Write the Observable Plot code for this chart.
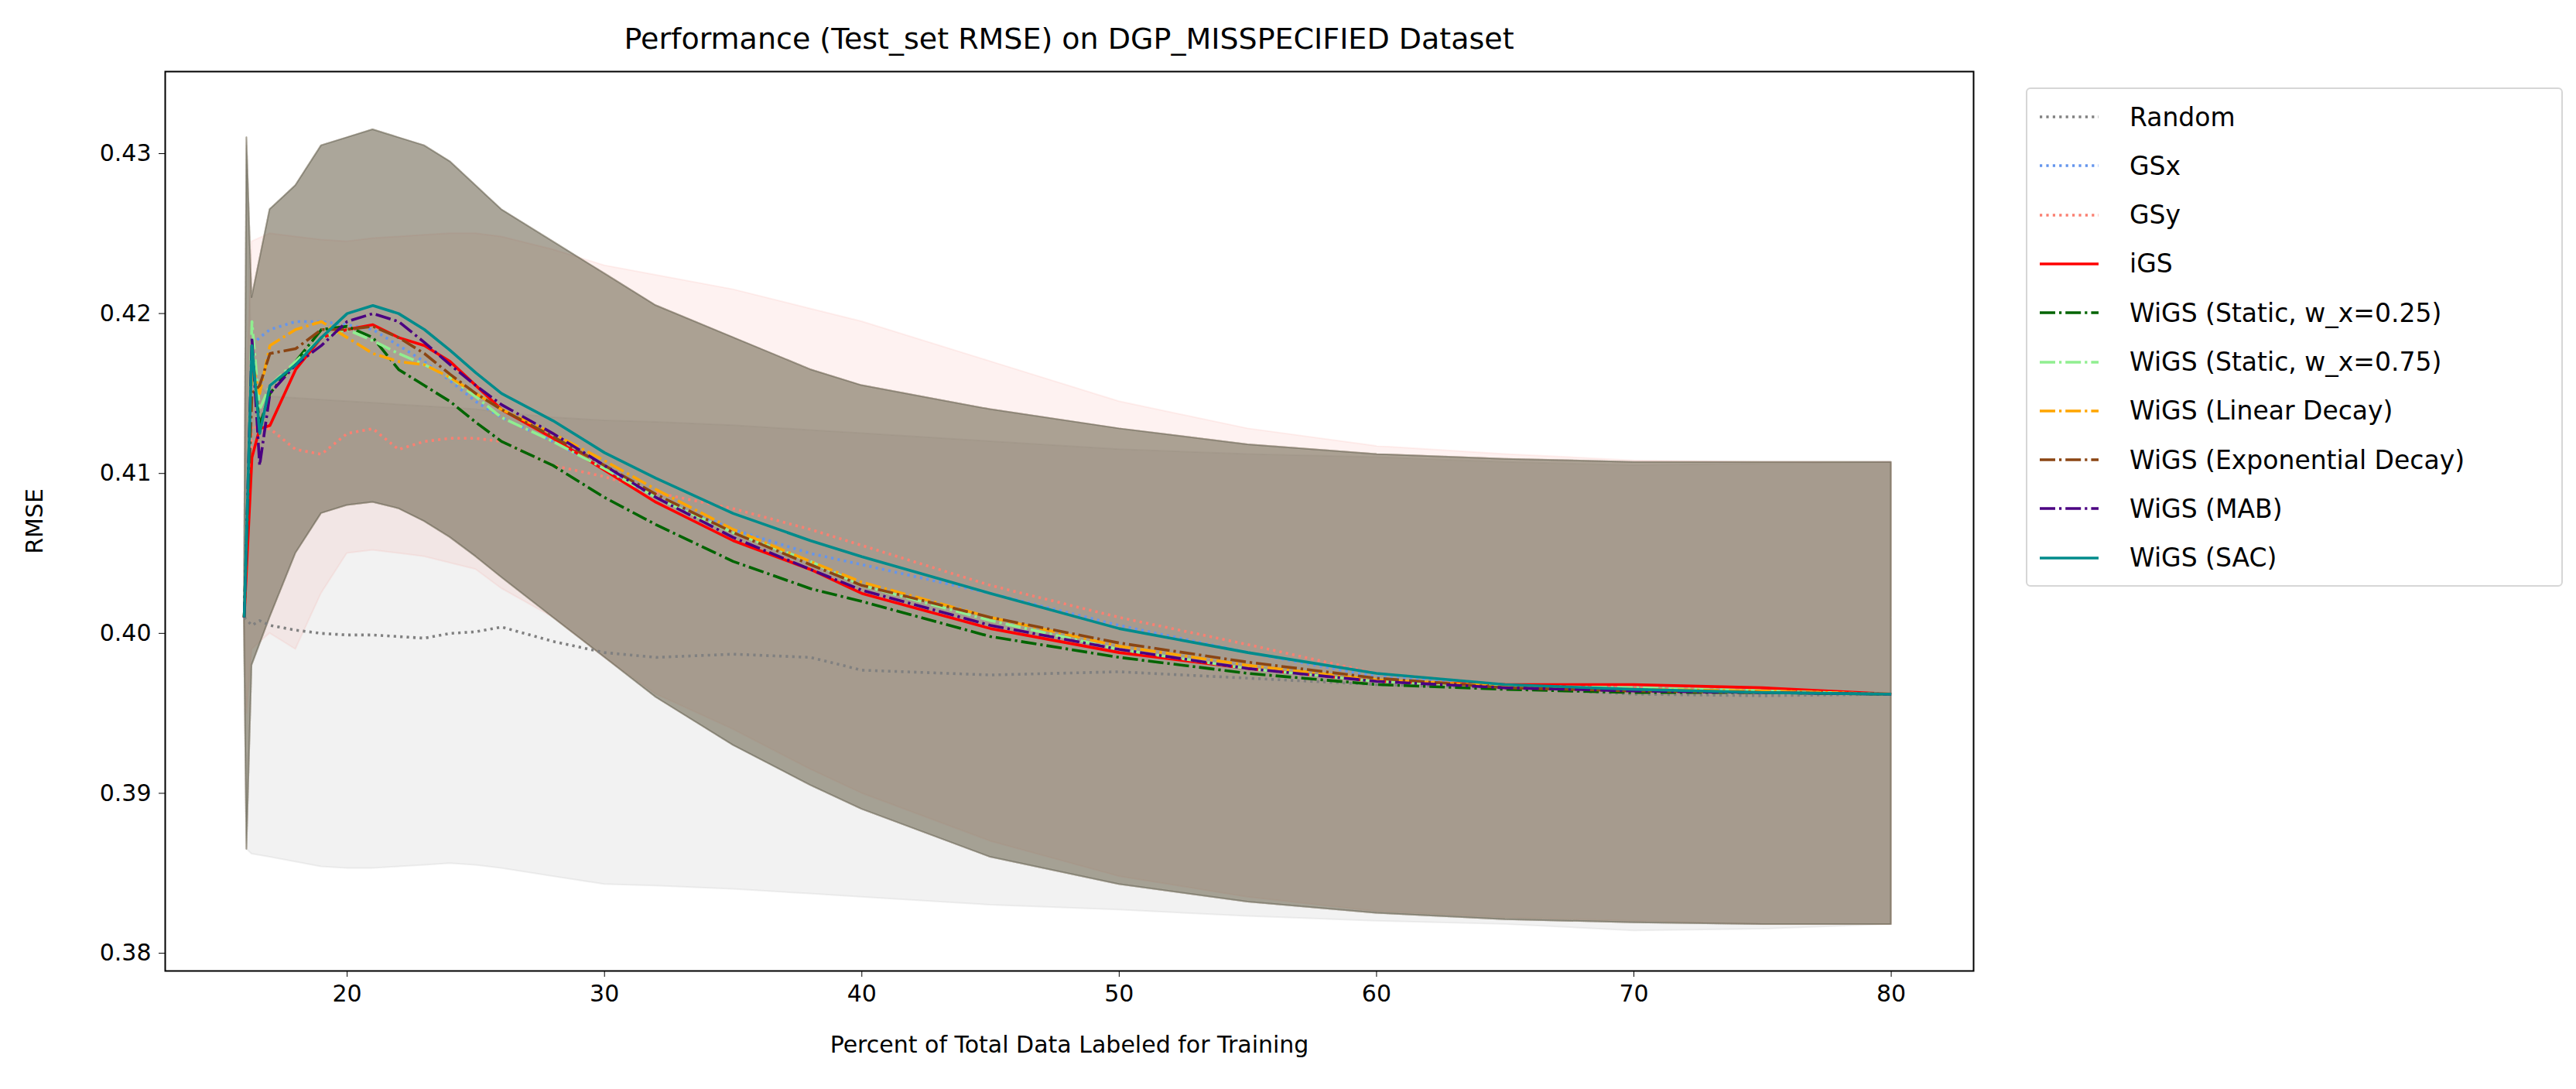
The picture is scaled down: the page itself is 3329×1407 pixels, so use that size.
<!DOCTYPE html>
<html>
<head>
<meta charset="utf-8">
<script src="https://cdn.jsdelivr.net/npm/d3@7"></script>
<script src="https://cdn.jsdelivr.net/npm/@observablehq/plot@0.6"></script>
<style>
  body { margin: 0; background: white; font-family: "DejaVu Sans", sans-serif; }
  #wrap { position: relative; width: 3329px; height: 1407px; }
  #title { position: absolute; left: 213px; width: 2337px; top: 28px; text-align: center; font-size: 38px; }
  #legend { position: absolute; left: 2618px; top: 113px; width: 694px; height: 645px;
            border: 2px solid #d6d6d6; border-radius: 6px; box-sizing: border-box; }
  .row { position: absolute; left: 0; height: 40px; display: flex; align-items: center; font-size: 33px; }
  .row svg { margin-left: 16px; margin-right: 40px; }
</style>
</head>
<body>
<div id="wrap">
  <div id="title">Performance (Test_set RMSE) on DGP_MISSPECIFIED Dataset</div>
  <div id="chart"></div>
  <div id="legend"></div>
</div>
<script>
const xs = [16, 16.3, 16.6, 17, 18, 19, 20, 21, 22, 23, 24, 25, 26, 28, 30, 32, 35, 38, 40, 45, 50, 55, 60, 65, 70, 75, 80];

const names = ["Random", "GSx", "GSy", "iGS", "WiGS (Static, w_x=0.25)", "WiGS (Static, w_x=0.75)",
  "WiGS (Linear Decay)", "WiGS (Exponential Decay)", "WiGS (MAB)", "WiGS (SAC)"];
const colors = ["#808080", "#6495ed", "#fa8072", "#ff0000", "#006400", "#90ee90",
  "#ffa500", "#8b4513", "#4b0082", "#008b8b"];
const styles = ["dot", "dot", "dot", "solid", "dashdot", "dashdot", "dashdot", "dashdot", "dashdot", "solid"];

const meanRandom = [0.401, 0.4005, 0.4008, 0.4005, 0.4002, 0.4, 0.3999, 0.3999, 0.3998, 0.3997, 0.4, 0.4001, 0.4004, 0.3995, 0.3988, 0.3985, 0.3987, 0.3985, 0.3977, 0.3974, 0.3976, 0.3972, 0.3968, 0.3966, 0.3962, 0.3961, 0.3962];
const meanGSx = [0.401, 0.418, 0.4185, 0.419, 0.4195, 0.4195, 0.4193, 0.419, 0.418, 0.417, 0.4158, 0.4145, 0.4135, 0.412, 0.4103, 0.4085, 0.4065, 0.405, 0.4043, 0.4025, 0.4005, 0.3988, 0.3973, 0.3967, 0.3965, 0.3963, 0.3962];
const meanGSy = [0.401, 0.413, 0.4128, 0.4128, 0.4115, 0.4112, 0.4125, 0.4128, 0.4115, 0.412, 0.4122, 0.4122, 0.412, 0.4105, 0.4098, 0.4088, 0.4078, 0.4065, 0.4055, 0.403, 0.401, 0.3993, 0.3975, 0.3968, 0.3966, 0.3963, 0.3962];
const meanIGS = [0.401, 0.411, 0.4128, 0.413, 0.4165, 0.4185, 0.419, 0.4193, 0.4185, 0.418, 0.417, 0.4155, 0.414, 0.4122, 0.4102, 0.4082, 0.4058, 0.404, 0.4025, 0.4003, 0.3988, 0.3978, 0.397, 0.3968, 0.3968, 0.3966, 0.3962];
const meanW025 = [0.401, 0.4175, 0.413, 0.415, 0.417, 0.419, 0.4192, 0.4185, 0.4165, 0.4155, 0.4145, 0.4132, 0.412, 0.4105, 0.4085, 0.4068, 0.4045, 0.4028, 0.402, 0.3998, 0.3985, 0.3975, 0.3968, 0.3965, 0.3963, 0.3963, 0.3962];
const meanW075 = [0.401, 0.4195, 0.414, 0.4155, 0.417, 0.4185, 0.419, 0.4183, 0.4175, 0.4168, 0.416, 0.4148, 0.4135, 0.412, 0.4103, 0.4085, 0.4063, 0.4045, 0.403, 0.4008, 0.399, 0.3978, 0.397, 0.3967, 0.3966, 0.3964, 0.3962];
const meanLinear = [0.401, 0.417, 0.415, 0.418, 0.419, 0.4195, 0.4185, 0.4175, 0.417, 0.4168, 0.416, 0.415, 0.414, 0.4125, 0.4108, 0.409, 0.4065, 0.4045, 0.4032, 0.401, 0.3992, 0.398, 0.3971, 0.3967, 0.3965, 0.3964, 0.3962];
const meanExp = [0.401, 0.415, 0.4155, 0.4175, 0.4178, 0.419, 0.419, 0.4192, 0.4185, 0.4175, 0.4162, 0.415, 0.414, 0.4123, 0.4105, 0.4087, 0.4063, 0.4043, 0.403, 0.401, 0.3994, 0.3982, 0.3972, 0.3966, 0.3964, 0.3963, 0.3962];
const meanMAB = [0.401, 0.4185, 0.4105, 0.415, 0.4168, 0.418, 0.4195, 0.42, 0.4195, 0.4182, 0.4168, 0.4155, 0.4143, 0.4125, 0.4105, 0.4085, 0.406, 0.404, 0.4027, 0.4005, 0.399, 0.3978, 0.397, 0.3966, 0.3964, 0.3963, 0.3962];
const meanSAC = [0.401, 0.418, 0.4125, 0.4155, 0.4168, 0.4185, 0.42, 0.4205, 0.42, 0.419, 0.4177, 0.4163, 0.415, 0.4133, 0.4113, 0.4097, 0.4075, 0.4058, 0.4048, 0.4025, 0.4003, 0.3988, 0.3975, 0.3968, 0.3965, 0.3963, 0.3962];
const means = [meanRandom, meanGSx, meanGSy, meanIGS, meanW025, meanW075, meanLinear, meanExp, meanMAB, meanSAC];

// shaded ±std bands
const bandX = [16, 16.1, 16.3, 17, 18, 19, 20, 21, 22, 23, 24, 25, 26, 28, 30, 32, 35, 38, 40, 45, 50, 55, 60, 65, 70, 75, 80];
const bandHi = [0.401, 0.431, 0.421, 0.4265, 0.428, 0.4305, 0.431, 0.4315, 0.431, 0.4305, 0.4295, 0.428, 0.4265, 0.4245, 0.4225, 0.4205, 0.4185, 0.4165, 0.4155, 0.414, 0.4128, 0.4118, 0.4112, 0.4109, 0.4107, 0.4107, 0.4107];
const bandLo = [0.401, 0.3865, 0.398, 0.401, 0.405, 0.4075, 0.408, 0.4082, 0.4078, 0.407, 0.406, 0.4048, 0.4035, 0.401, 0.3985, 0.396, 0.393, 0.3905, 0.389, 0.386, 0.3843, 0.3832, 0.3825, 0.3821, 0.3819, 0.3818, 0.3818];
const randomHi = [0.401, 0.4305, 0.416, 0.4148, 0.4147, 0.4146, 0.4145, 0.4144, 0.4143, 0.4142, 0.4141, 0.414, 0.4138, 0.4135, 0.4133, 0.4132, 0.413, 0.4127, 0.4125, 0.412, 0.4115, 0.4112, 0.411, 0.4107, 0.4105, 0.4106, 0.4107];
const randomLo = [0.401, 0.3865, 0.3862, 0.386, 0.3857, 0.3854, 0.3853, 0.3853, 0.3854, 0.3855, 0.3856, 0.3855, 0.3853, 0.3848, 0.3843, 0.3842, 0.384, 0.3837, 0.3835, 0.383, 0.3827, 0.3823, 0.382, 0.3818, 0.3814, 0.3815, 0.3818];
const gsyHi = [0.401, 0.415, 0.4245, 0.425, 0.4248, 0.4246, 0.4245, 0.4247, 0.4248, 0.4249, 0.425, 0.425, 0.4248, 0.424, 0.423, 0.4224, 0.4215, 0.4203, 0.4195, 0.417, 0.4145, 0.4128, 0.4117, 0.4112, 0.4108, 0.4107, 0.4107];
const gsyLo = [0.401, 0.395, 0.399, 0.4, 0.399, 0.4025, 0.405, 0.4052, 0.405, 0.4048, 0.4044, 0.404, 0.4028, 0.401, 0.3985, 0.3962, 0.394, 0.3915, 0.39, 0.387, 0.3848, 0.3835, 0.3826, 0.3822, 0.382, 0.3818, 0.3818];

const bandRows = [];
names.forEach((n, i) => {
  const hi = i === 0 ? randomHi : i === 2 ? gsyHi : bandHi;
  const lo = i === 0 ? randomLo : i === 2 ? gsyLo : bandLo;
  bandX.forEach((x, j) => bandRows.push({ name: n, x, lo: lo[j], hi: hi[j] }));
});

const dashes = { dot: "3.2,5.2", dashdot: "20,5,3.2,5", solid: null };

const marks = [];
names.forEach((n, i) => {
  marks.push(Plot.areaY(bandRows.filter((d) => d.name === n), {
    x: "x", y1: "lo", y2: "hi", fill: colors[i], fillOpacity: 0.1,
    stroke: colors[i], strokeOpacity: 0.1, strokeWidth: 2,
  }));
});
names.forEach((n, i) => {
  const rows = xs.map((x, j) => ({ x, y: means[i][j] }));
  marks.push(Plot.line(rows, {
    x: "x", y: "y", stroke: colors[i], strokeWidth: 3.6,
    strokeDasharray: dashes[styles[i]], strokeLinecap: "butt",
  }));
});
marks.push(Plot.frame({ stroke: "black", strokeWidth: 2 }));

const chart = Plot.plot({
  width: 3329,
  height: 1407,
  marginLeft: 213,
  marginRight: 779,
  marginTop: 92,
  marginBottom: 153,
  style: { fontFamily: "DejaVu Sans", fontSize: "30px", color: "black", background: "white" },
  x: {
    domain: [12.93, 83.2],
    ticks: [20, 30, 40, 50, 60, 70, 80],
    tickSize: 8,
    tickPadding: 10,
    label: "Percent of Total Data Labeled for Training",
    labelAnchor: "center",
    labelArrow: "none",
    labelOffset: 105,
  },
  y: {
    domain: [0.37889, 0.43513],
    ticks: [0.38, 0.39, 0.40, 0.41, 0.42, 0.43],
    tickFormat: ".2f",
    tickSize: 8,
    tickPadding: 10,
    label: "RMSE",
    labelAnchor: "center",
    labelArrow: "none",
    labelOffset: 180,
  },
  marks,
});
document.getElementById("chart").appendChild(chart);

// legend
const legend = document.getElementById("legend");
names.forEach((n, i) => {
  const row = document.createElement("div");
  row.className = "row";
  row.style.top = (36 - 20 + i * 63.3) + "px";
  const dash = dashes[styles[i]];
  row.innerHTML = `<svg width="76" height="20"><line x1="0" x2="76" y1="10" y2="10" stroke="${colors[i]}" stroke-width="3.6" ${dash ? `stroke-dasharray="${dash}"` : ""}/></svg><span>${n}</span>`;
  legend.appendChild(row);
});
</script>
</body>
</html>
